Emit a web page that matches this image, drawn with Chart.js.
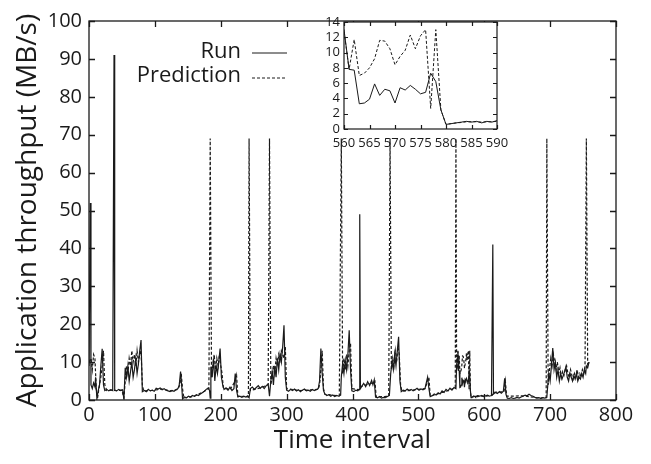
<!DOCTYPE html>
<html>
<head>
<meta charset="utf-8">
<script src="https://cdn.jsdelivr.net/npm/chart.js@4.4.1/dist/chart.umd.min.js"></script>
<style>
  html, body { margin: 0; padding: 0; background: #fff; }
  #wrap { position: relative; width: 651px; height: 464px; }
  #main { position: absolute; left: 0; top: 0; }
  #inset { position: absolute; left: 300px; top: 0; }
</style>
</head>
<body>
<div id="wrap">
  <canvas id="main" width="651" height="464"></canvas>
  <canvas id="inset" width="220" height="170"></canvas>
</div>
<script>
// [time interval, MB/s]
const runPoints = [
  [0, 9], [2, 52], [3, 4], [5, 3], [7, 4.5], [9, 3.5], [10, 6], [12, 0.3], [14, 2.5], [16, 4],
  [18, 9], [20, 13.5], [22, 4], [24, 2.5], [27, 2.8], [30, 2.4], [33, 2.7], [36, 2.5], [38, 91], [39, 2.6],
  [42, 2.4], [45, 2.8], [48, 2.5], [51, 2.7], [53, 0.2], [55, 8.5], [57, 6], [59, 9], [61, 5], [63, 7.5],
  [65, 10], [67, 6], [69, 8], [71, 11], [73, 7], [75, 9.5], [77, 13], [79, 15.8], [81, 2.2], [84, 2.5],
  [87, 2.2], [90, 2.8], [93, 2.4], [96, 2.6], [99, 2.3], [102, 3.1], [105, 2.9], [108, 3.2], [111, 2.7], [114, 3.0],
  [117, 2.6], [120, 2.4], [123, 2.2], [126, 2.5], [129, 2.3], [132, 2.7], [135, 3.0], [137, 4], [139, 7.5], [141, 3],
  [142, 0.3], [145, 0.8], [148, 0.6], [151, 1.0], [154, 0.8], [157, 1.2], [160, 1.0], [163, 1.4], [166, 1.2], [169, 1.6],
  [172, 1.9], [175, 2.3], [178, 2.8], [181, 3.2], [183, 2.5], [184, 0.5], [185, 8.8], [187, 6], [189, 11], [191, 5],
  [193, 9], [195, 7], [197, 10], [199, 13.6], [201, 6], [203, 4], [205, 2.8], [208, 3.2], [211, 2.6], [214, 3.4],
  [217, 2.5], [220, 3], [222, 7], [224, 2.5], [226, 0.8], [229, 1.0], [232, 0.7], [235, 1.0], [238, 0.8], [241, 1.1],
  [243, 0.6], [245, 3], [248, 3.4], [251, 2.8], [254, 3.3], [257, 3.8], [260, 3.1], [263, 3.6], [266, 3.0], [269, 3.8],
  [272, 4.2], [274, 1.0], [276, 5], [278, 7.5], [280, 4], [282, 9], [284, 6], [286, 11], [288, 8], [290, 12],
  [292, 10], [294, 14], [296, 19.7], [298, 6], [300, 2.6], [303, 2.3], [306, 2.8], [309, 2.5], [312, 2.9], [315, 2.4],
  [318, 2.7], [321, 2.2], [324, 2.6], [327, 2.9], [330, 2.4], [333, 2.6], [336, 2.3], [339, 2.8], [342, 2.5], [345, 2.7],
  [348, 3.0], [350, 5], [352, 13.6], [354, 7], [356, 2.5], [358, 1.6], [361, 1.2], [364, 1.4], [367, 1.0], [370, 1.3],
  [373, 0.9], [376, 1.2], [379, 1.0], [382, 1.3], [383, 6], [385, 9.6], [387, 7], [389, 10.5], [391, 8], [393, 12],
  [395, 18.4], [397, 8], [399, 2.4], [402, 2.2], [405, 2.6], [408, 2.4], [410, 2.8], [411, 49], [412, 3], [414, 3.6],
  [417, 4.4], [420, 3.5], [423, 4.8], [426, 3.8], [429, 5.2], [431, 4], [433, 5.3], [435, 0.8], [438, 0.6], [441, 0.9],
  [444, 0.5], [447, 0.7], [450, 0.6], [453, 0.9], [456, 1.2], [458, 7], [460, 10], [462, 8], [464, 12], [466, 9],
  [468, 13], [470, 16.7], [472, 5], [474, 2.2], [477, 2.6], [480, 2.4], [483, 2.9], [486, 2.5], [489, 2.8], [492, 2.4],
  [495, 2.7], [498, 3.1], [501, 2.6], [504, 2.9], [507, 2.7], [510, 3.0], [512, 4.5], [514, 6], [516, 3], [518, 0.9],
  [521, 1.1], [524, 1.6], [527, 1.3], [530, 1.9], [533, 1.6], [536, 2.4], [539, 2.0], [542, 2.8], [545, 2.4], [548, 3.1],
  [551, 2.6], [554, 3.3], [557, 3.0], [558, 9], [559, 11], [560, 13.0], [561, 7.8], [562, 7.7], [563, 3.3], [564, 3.4],
  [565, 3.9], [566, 5.9], [567, 4.4], [568, 5.2], [569, 5.0], [570, 3.4], [571, 5.4], [572, 5.1], [573, 5.7], [574, 5.2],
  [575, 4.6], [576, 4.8], [577, 7.3], [578, 6.2], [579, 2.5], [580, 0.6], [581, 0.7], [582, 0.8], [583, 0.9], [584, 1.0],
  [585, 0.9], [586, 1.0], [587, 0.8], [588, 1.0], [589, 0.9], [590, 1.1], [593, 1.0], [596, 1.2], [599, 0.9], [602, 1.1],
  [605, 1.3], [608, 1.0], [611, 1.2], [613, 41], [614, 1.6], [617, 2.0], [620, 1.7], [623, 2.2], [626, 1.8], [629, 2.3],
  [631, 5.7], [633, 1.5], [635, 0.5], [638, 0.4], [641, 0.6], [644, 0.4], [647, 0.5], [650, 0.7], [653, 0.5], [656, 0.8],
  [659, 1.0], [662, 1.3], [665, 1.1], [668, 1.5], [671, 1.2], [674, 1.0], [677, 0.7], [680, 0.5], [683, 0.6], [686, 0.4],
  [689, 0.6], [692, 0.5], [695, 0.7], [696, 3], [698, 7], [700, 5], [702, 9], [704, 13.7], [706, 8], [708, 10],
  [710, 6], [712, 8], [714, 5], [716, 7], [718, 5.5], [720, 6.5], [722, 7.5], [724, 8.8], [726, 6], [728, 5],
  [730, 7], [732, 6], [734, 5], [736, 6.5], [738, 5.5], [740, 7], [742, 5], [744, 6], [746, 5.5], [748, 7],
  [750, 6], [752, 8], [754, 7], [755, 9], [757, 8.5], [759, 10]
];

const predictionPoints = [
  [0, 10], [3, 11], [5, 8], [7, 12], [9, 11], [11, 3], [13, 0.5], [15, 3], [18, 6], [20, 9],
  [22, 13], [24, 4], [27, 2.5], [35, 2.6], [42, 2.5], [50, 2.6], [53, 0.5], [55, 5], [57, 9], [59, 7],
  [61, 11], [63, 9], [65, 13], [67, 10], [69, 12], [71, 9], [73, 13], [75, 10], [77, 12], [79, 13],
  [81, 4], [83, 2.4], [95, 2.5], [110, 2.9], [125, 2.4], [135, 2.8], [138, 4], [140, 7], [142, 3], [144, 0.5],
  [160, 1.0], [175, 2.3], [182, 3], [184, 69], [186, 6], [188, 9], [190, 12], [192, 8], [194, 11], [196, 9],
  [198, 12], [200, 9], [202, 7], [204, 3], [215, 3], [222, 5], [224, 6.5], [226, 1.0], [242, 0.8], [243, 69],
  [245, 2.5], [260, 3.2], [272, 4], [274, 69], [276, 4], [278, 6], [280, 9], [282, 7], [284, 11], [286, 9],
  [288, 12], [290, 10.5], [292, 13], [294, 12], [296, 11], [298, 14], [300, 3], [320, 2.5], [348, 2.8], [350, 4],
  [352, 8], [354, 13], [356, 3], [358, 1.5], [380, 1.1], [383, 69], [385, 7], [387, 11], [389, 8], [391, 12],
  [393, 9], [395, 13], [397, 15], [399, 3], [410, 2.7], [412, 3.5], [430, 4.5], [434, 5], [436, 0.8], [455, 1.0],
  [457, 69], [459, 8], [461, 11], [463, 9], [465, 13], [467, 10], [469, 14], [471, 12], [473, 4], [475, 2.3],
  [510, 3.0], [514, 5], [516, 6], [518, 1], [540, 2.2], [556, 3.2], [557, 69], [558, 10], [559, 9], [560, 12.8],
  [561, 7.8], [562, 11.7], [563, 7.0], [564, 7.3], [565, 8.0], [566, 9.2], [567, 11.6], [568, 11.5], [569, 10.5], [570, 8.4],
  [571, 9.5], [572, 10.3], [573, 12.3], [574, 10.5], [575, 12.2], [576, 13.0], [577, 2.7], [578, 13.0], [579, 2.5], [580, 0.6],
  [581, 0.7], [582, 0.8], [583, 0.85], [584, 0.95], [585, 0.95], [586, 0.95], [587, 0.9], [588, 0.95], [589, 0.95], [590, 1.0],
  [600, 1.0], [612, 1.2], [614, 2], [630, 2.2], [632, 5], [634, 1], [660, 1.1], [680, 0.6], [694, 0.6], [695, 69],
  [697, 4], [699, 8], [701, 11], [703, 9], [705, 12], [707, 10], [709, 8], [711, 10], [713, 7], [715, 8.5],
  [717, 6], [719, 7.5], [721, 6.5], [723, 8], [725, 9], [727, 7], [729, 6], [731, 8], [733, 6.5], [735, 5.5],
  [737, 7], [739, 6], [741, 8], [743, 6], [745, 7], [747, 6], [749, 8], [751, 7], [753, 9], [755, 69],
  [757, 9], [759, 10]
];

const mainXTicks = [0, 100, 200, 300, 400, 500, 600, 700, 800];
const mainYTicks = [0, 10, 20, 30, 40, 50, 60, 70, 80, 90, 100];
const insetXTicks = [560, 565, 570, 575, 580, 585, 590];
const insetYTicks = [0, 2, 4, 6, 8, 10, 12, 14];

const seriesNames = ['Run', 'Prediction'];
const FONT = "'Open Sans', 'Noto Sans', sans-serif";
const INK = '#1a1a1a';

const toXY = pts => pts.map(p => ({ x: p[0], y: p[1] }));

// gnuplot-like box with inward ticks on all four sides
const framePlugin = {
  id: 'frame',
  beforeDraw(chart, args, opts) {
    const { ctx, chartArea: a } = chart;
    ctx.save();
    ctx.fillStyle = '#fff';
    ctx.fillRect(a.left, a.top, a.right - a.left, a.bottom - a.top);
    ctx.restore();
  },
  afterDraw(chart, args, opts) {
    const { ctx, chartArea: a, scales: { x, y } } = chart;
    const len = opts.tick;
    ctx.save();
    ctx.strokeStyle = INK;
    ctx.lineWidth = opts.width;
    ctx.strokeRect(a.left, a.top, a.right - a.left, a.bottom - a.top);
    ctx.beginPath();
    x.ticks.forEach(t => {
      const px = Math.round(x.getPixelForValue(t.value)) + 0.5;
      ctx.moveTo(px, a.bottom); ctx.lineTo(px, a.bottom - len);
      ctx.moveTo(px, a.top); ctx.lineTo(px, a.top + len);
    });
    y.ticks.forEach(t => {
      const py = Math.round(y.getPixelForValue(t.value)) + 0.5;
      ctx.moveTo(a.left, py); ctx.lineTo(a.left + len, py);
      ctx.moveTo(a.right, py); ctx.lineTo(a.right - len, py);
    });
    ctx.stroke();
    ctx.restore();
  }
};

// legend in the gnuplot style: right aligned text, then a line sample
const keyPlugin = {
  id: 'key',
  afterDraw(chart, args, opts) {
    const ctx = chart.ctx;
    ctx.save();
    ctx.font = '22px ' + FONT;
    ctx.fillStyle = INK;
    ctx.textAlign = 'right';
    ctx.textBaseline = 'middle';
    chart.data.datasets.forEach((ds, i) => {
      const yy = opts.top + i * opts.gap;
      ctx.fillText(ds.label, opts.textRight, yy);
      ctx.beginPath();
      ctx.strokeStyle = ds.borderColor;
      ctx.lineWidth = 1;
      ctx.setLineDash(ds.borderDash || []);
      ctx.moveTo(opts.lineLeft, yy + 1 + i);
      ctx.lineTo(opts.lineRight, yy + 1 + i);
      ctx.stroke();
    });
    ctx.restore();
  }
};

function datasets(lineWidth) {
  return [
    {
      label: seriesNames[0],
      data: toXY(runPoints),
      borderColor: INK,
      borderWidth: lineWidth,
      pointRadius: 0,
      tension: 0,
      fill: false
    },
    {
      label: seriesNames[1],
      data: toXY(predictionPoints),
      borderColor: INK,
      borderWidth: lineWidth,
      borderDash: [3, 2],
      pointRadius: 0,
      tension: 0,
      fill: false
    }
  ];
}

new Chart(document.getElementById('main'), {
  type: 'line',
  data: { datasets: datasets(1.2) },
  options: {
    responsive: false,
    animation: false,
    layout: { padding: { top: 21, right: 35, left: 0, bottom: 0 } },
    plugins: {
      legend: { display: false },
      tooltip: { enabled: false },
      frame: { tick: 6, width: 1.3 },
      key: { top: 52, gap: 24, textRight: 241, lineLeft: 252, lineRight: 287 }
    },
    scales: {
      x: {
        type: 'linear',
        min: 0,
        max: 800,
        afterBuildTicks: s => { s.ticks = mainXTicks.map(v => ({ value: v })); },
        afterFit: s => { s.height = 64; },
        grid: { display: false, drawTicks: false },
        border: { display: false },
        ticks: { color: INK, font: { family: FONT, size: 20 }, padding: 3, maxRotation: 0 },
        title: { display: true, text: 'Time interval', color: INK, font: { family: FONT, size: 26 }, padding: { top: 0, bottom: 8 } }
      },
      y: {
        min: 0,
        max: 100,
        afterBuildTicks: s => { s.ticks = mainYTicks.map(v => ({ value: v })); },
        afterFit: s => { s.width = 89; },
        grid: { display: false, drawTicks: false },
        border: { display: false },
        ticks: { color: INK, font: { family: FONT, size: 20 }, padding: 7 },
        title: { display: true, text: 'Application throughput (MB/s)', color: INK, font: { family: FONT, size: 28 }, padding: { top: 11, bottom: 0 } }
      }
    }
  },
  plugins: [framePlugin, keyPlugin]
});

new Chart(document.getElementById('inset'), {
  type: 'line',
  data: { datasets: datasets(1) },
  options: {
    responsive: false,
    animation: false,
    layout: { padding: { top: 22, right: 23, left: 0, bottom: 0 } },
    plugins: {
      legend: { display: false },
      tooltip: { enabled: false },
      frame: { tick: 4, width: 1.2 }
    },
    scales: {
      x: {
        type: 'linear',
        min: 560,
        max: 590,
        afterBuildTicks: s => { s.ticks = insetXTicks.map(v => ({ value: v })); },
        afterFit: s => { s.height = 41; },
        grid: { display: false, drawTicks: false },
        border: { display: false },
        ticks: { color: INK, font: { family: FONT, size: 13 }, padding: 6, maxRotation: 0, autoSkip: false }
      },
      y: {
        min: 0,
        max: 14,
        afterBuildTicks: s => { s.ticks = insetYTicks.map(v => ({ value: v })); },
        afterFit: s => { s.width = 44; },
        grid: { display: false, drawTicks: false },
        border: { display: false },
        ticks: { color: INK, font: { family: FONT, size: 13 }, padding: 4, autoSkip: false }
      }
    }
  },
  plugins: [framePlugin]
});
</script>
</body>
</html>
